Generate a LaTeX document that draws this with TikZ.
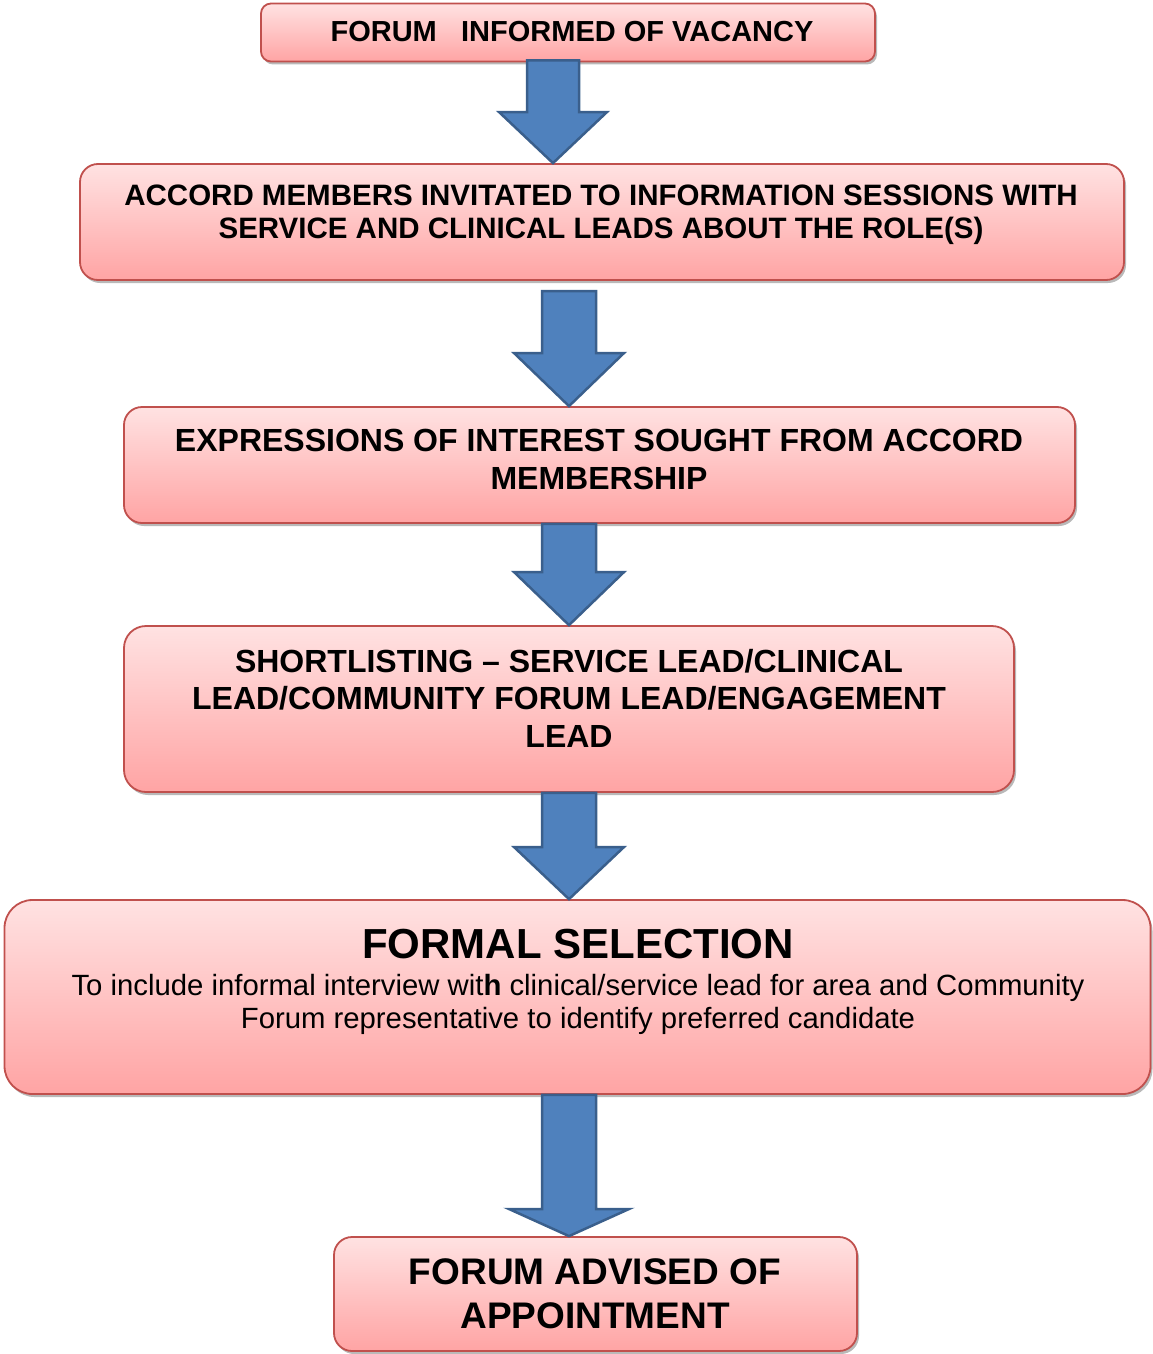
\documentclass[tikz,border=0pt]{standalone}
\usepackage{fontspec}
\setmainfont{Liberation Sans}
\usetikzlibrary{shadows,calc}
\definecolor{boxline}{HTML}{C0504D}
\definecolor{boxtop}{HTML}{FFE2E2}
\definecolor{boxbot}{HTML}{FFA4A4}
\definecolor{arrfill}{HTML}{4F81BD}
\definecolor{arrline}{HTML}{3A5F8C}
\begin{document}
\begin{tikzpicture}[x=1pt,y=-1pt,
 stepbox/.style={draw=boxline, line width=1.8pt, top color=boxtop, bottom color=boxbot, inner sep=0pt,
   drop shadow={shadow xshift=2pt, shadow yshift=-3pt, fill=black!50, opacity=0.55}},
 steptext/.style={align=center, inner sep=0pt},
 barrow/.style={fill=arrfill, draw=arrline, line width=2.5pt, line join=miter}]
\useasboundingbox (0,0) rectangle (1153,1354);

% boxes
\node[stepbox, rounded corners=10pt, minimum width=614pt, minimum height=58pt] (b1) at (568,32.5) {};
\node[stepbox, rounded corners=18pt, minimum width=1044pt, minimum height=116pt] (b2) at (602,222) {};
\node[stepbox, rounded corners=18pt, minimum width=951pt, minimum height=116pt] (b3) at (599.5,465) {};
\node[stepbox, rounded corners=22pt, minimum width=890pt, minimum height=166pt] (b4) at (569,709) {};
\node[stepbox, rounded corners=28pt, minimum width=1146pt, minimum height=194pt] (b5) at (577.5,997) {};
\node[stepbox, rounded corners=18pt, minimum width=523pt, minimum height=114pt] (b6) at (595.5,1294) {};

% texts
\node[steptext, font=\fontsize{29}{33}\selectfont\bfseries] (t1) at (572,32) {FORUM\hspace{0.56em} INFORMED OF VACANCY};
\node[steptext, font=\fontsize{29.5}{33}\selectfont\bfseries] (t2) at (601,215) {ACCORD MEMBERS INVITATED TO INFORMATION SESSIONS WITH\\SERVICE AND CLINICAL LEADS ABOUT THE ROLE(S)};
\node[steptext, font=\fontsize{32}{38}\selectfont\bfseries] (t3) at (599,459) {EXPRESSIONS OF INTEREST SOUGHT FROM ACCORD\\MEMBERSHIP};
\node[steptext, font=\fontsize{32}{37.5}\selectfont\bfseries] (t4) at (569,698) {SHORTLISTING -- SERVICE LEAD/CLINICAL\\LEAD/COMMUNITY FORUM LEAD/ENGAGEMENT\\LEAD};
\node[steptext, font=\fontsize{42}{48}\selectfont\bfseries] (t5) at (578,944) {FORMAL SELECTION};
\node[steptext, font=\fontsize{29.3}{33}\selectfont] (t5b) at (578,1004) {To include informal interview wit\textbf{h} clinical/service lead for area and Community\\Forum representative to identify preferred candidate};
\node[steptext, font=\fontsize{37}{44}\selectfont\bfseries] (t6) at (595,1294) {FORUM ADVISED OF\\APPOINTMENT};

% block arrows
\coordinate (x1) at (553,0);
\coordinate (x2) at (569,0);
\coordinate (x3) at (569,0);
\coordinate (x4) at (569,0);
\coordinate (x5) at (569,0);

\draw[barrow] ($(x1|-b1.south)+(-26,-2)$) -- ($(x1)+(-26,112)$) -- ($(x1)+(-54,112)$) -- (x1|-b2.north)
  -- ($(x1)+(54,112)$) -- ($(x1)+(26,112)$) -- ($(x1|-b1.south)+(26,-2)$) -- cycle;
\draw[barrow] ($(x2)+(-27,291)$) -- ($(x2)+(-27,353)$) -- ($(x2)+(-55,353)$) -- (x2|-b3.north)
  -- ($(x2)+(55,353)$) -- ($(x2)+(27,353)$) -- ($(x2)+(27,291)$) -- cycle;
\draw[barrow] ($(x3|-b3.south)+(-27,0)$) -- ($(x3)+(-27,572)$) -- ($(x3)+(-55,572)$) -- (x3|-b4.north)
  -- ($(x3)+(55,572)$) -- ($(x3)+(27,572)$) -- ($(x3|-b3.south)+(27,0)$) -- cycle;
\draw[barrow] ($(x4|-b4.south)+(-27,0)$) -- ($(x4)+(-27,847)$) -- ($(x4)+(-55,847)$) -- (x4|-b5.north)
  -- ($(x4)+(55,847)$) -- ($(x4)+(27,847)$) -- ($(x4|-b4.south)+(27,0)$) -- cycle;
\draw[barrow] ($(x5|-b5.south)+(-27,0)$) -- ($(x5)+(-27,1209)$) -- ($(x5)+(-60,1209)$) -- (x5|-b6.north)
  -- ($(x5)+(60,1209)$) -- ($(x5)+(27,1209)$) -- ($(x5|-b5.south)+(27,0)$) -- cycle;
\end{tikzpicture}
\end{document}
